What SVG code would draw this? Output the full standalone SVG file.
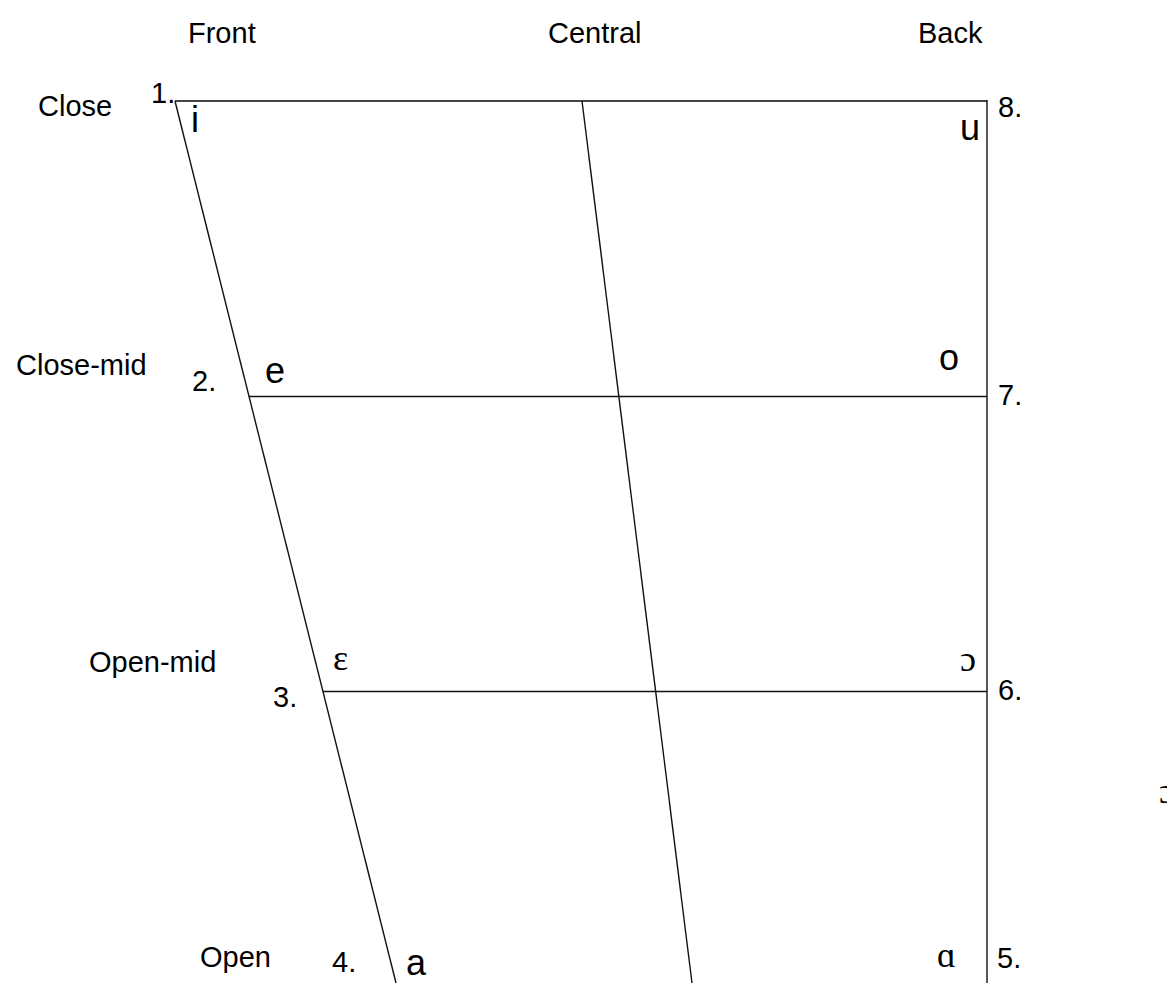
<svg xmlns="http://www.w3.org/2000/svg" width="1167" height="983" viewBox="0 0 1167 983">
<style>
.lbl{font-family:"Liberation Sans",Arial,sans-serif;font-size:29px;fill:#000}
.num{font-family:"Liberation Sans",Arial,sans-serif;font-size:29px;fill:#000}
.v{font-family:"Liberation Sans",Arial,sans-serif;font-size:36px;fill:#000}
.vs{font-family:"Liberation Serif","Times New Roman",serif;font-size:36px;fill:#000}
.ln{stroke:#111;stroke-width:1.4;fill:none}
.top{stroke:#444;stroke-width:2;fill:none}
</style>
<rect width="1167" height="983" fill="#fff"/>
<g id="connectors">
<line class="top" x1="175" y1="101" x2="987" y2="101"/>
<line class="ln" x1="175" y1="101" x2="396" y2="983"/>
<line class="ln" x1="582" y1="101" x2="692" y2="983"/>
<line class="ln" x1="987" y1="100" x2="987" y2="983"/>
<line class="ln" x1="249" y1="396.5" x2="987" y2="396.5"/>
<line class="ln" x1="323" y1="691.5" x2="987" y2="691.5"/>
</g>
<g id="headers">
<text class="lbl" x="188" y="43">Front</text>
<text class="lbl" x="548" y="43">Central</text>
<text class="lbl" x="918" y="43">Back</text>
</g>
<g id="row-close">
<text class="lbl" x="38" y="116">Close</text>
<text class="num" x="151" y="103">1.</text>
<text class="v" x="191" y="132">i</text>
<text class="v" x="960" y="140">u</text>
<text class="num" x="998" y="117">8.</text>
</g>
<g id="row-close-mid">
<text class="lbl" x="16" y="375">Close-mid</text>
<text class="num" x="192" y="391">2.</text>
<text class="v" x="265" y="383">e</text>
<text class="v" x="939" y="370">o</text>
<text class="num" x="998" y="405">7.</text>
</g>
<g id="row-open-mid">
<text class="lbl" x="89" y="672">Open-mid</text>
<text class="vs" x="333" y="670">ε</text>
<text class="num" x="273" y="707">3.</text>
<text class="vs" x="960" y="671">ɔ</text>
<text class="num" x="998" y="700">6.</text>
</g>
<g id="stray">
<text class="vs" x="1159" y="803">ɔ</text>
</g>
<g id="row-open">
<text class="lbl" x="200" y="967">Open</text>
<text class="num" x="332" y="972">4.</text>
<text class="v" x="406" y="975">a</text>
<text class="vs" x="937" y="967">ɑ</text>
<text class="num" x="997" y="968">5.</text>
</g>
</svg>
